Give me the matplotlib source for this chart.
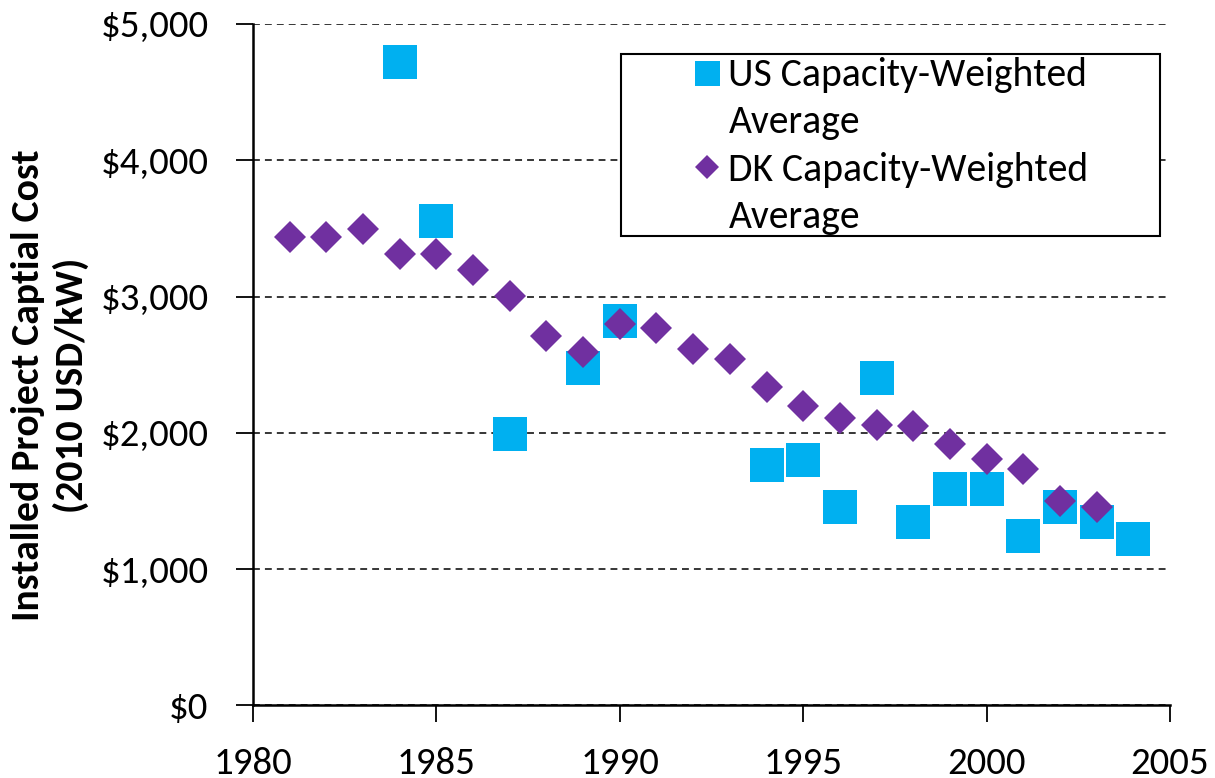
import matplotlib
matplotlib.use("Agg")
import matplotlib.pyplot as plt
from matplotlib.patches import Rectangle
from matplotlib.lines import Line2D

plt.rcParams['font.family'] = ['Carlito', 'DejaVu Sans']

us_years = [1984, 1985, 1987, 1989, 1990, 1994, 1995, 1996, 1997, 1998, 1999, 2000, 2001, 2002, 2003, 2004]
us_cost = [4720, 3555, 1992, 2476, 2821, 1765, 1802, 1457, 2403, 1346, 1589, 1589, 1244, 1457, 1346, 1222]

dk_years = list(range(1981, 2004))
dk_cost = [3439, 3439, 3494, 3311, 3311, 3194, 3004, 2712, 2595, 2800, 2770, 2617, 2544, 2339,
           2200, 2112, 2061, 2047, 1915, 1806, 1732, 1498, 1455]

x_ticks = [1980, 1985, 1990, 1995, 2000, 2005]
y_ticks = [0, 1000, 2000, 3000, 4000, 5000]
y_labels = ['$0', '$1,000', '$2,000', '$3,000', '$4,000', '$5,000']

US_COLOR = '#00B0F0'
DK_COLOR = '#7030A0'

fig = plt.figure(figsize=(12.15, 7.78), dpi=100)
ax = fig.add_axes([0.2082, 0.0932, 0.7548, 0.876])

ax.plot(us_years, us_cost, linestyle='none', marker='s', markersize=24,
        color=US_COLOR, markeredgewidth=0, zorder=3)
ax.plot(dk_years, dk_cost, linestyle='none', marker='D', markersize=16.8,
        color=DK_COLOR, markeredgewidth=0, zorder=4)

ax.set_xlim(1980, 2005)
ax.set_ylim(0, 5000)
ax.set_xticks(x_ticks)
ax.set_yticks(y_ticks)
ax.set_yticklabels(y_labels)
ax.tick_params(axis='both', labelsize=28, length=12, width=1.3, direction='out', color='black')
ax.tick_params(axis='x', pad=18)
ax.tick_params(axis='y', pad=20)

for s in ['top', 'right']:
    ax.spines[s].set_visible(False)
for s in ['left', 'bottom']:
    ax.spines[s].set_linewidth(1.8)

ax.yaxis.grid(True, linestyle=(0, (4.5, 3.3)), color='black', linewidth=1.1)
ax.set_axisbelow(True)

ax.set_ylabel('Installed Project Captial Cost\n(2010 USD/kW)', fontsize=28.5, fontweight='bold',
              linespacing=1.25)
ax.yaxis.set_label_coords(-0.179, 0.47)

# legend frame
rect = Rectangle((0.401, 0.689), 0.588, 0.267, transform=ax.transAxes, facecolor='white',
                 edgecolor='black', linewidth=1.5, zorder=5)
ax.add_patch(rect)
h_us = Line2D([], [], linestyle='none', marker='s', markersize=18, color=US_COLOR, markeredgewidth=0)
h_dk = Line2D([], [], linestyle='none', marker='D', markersize=12.4, color=DK_COLOR, markeredgewidth=0)
h_blank = Line2D([], [], linestyle='none', marker=None)
leg = ax.legend(handles=[h_us, h_blank, h_dk, h_blank],
                labels=['US Capacity-Weighted', 'Average', 'DK Capacity-Weighted', 'Average'],
                loc='upper left', bbox_to_anchor=(0.4766, 0.951), frameon=False,
                fontsize=28.5, handletextpad=0.12, handlelength=0.85, labelspacing=0.28,
                borderaxespad=0, borderpad=0)
leg.set_zorder(6)

fig.savefig('out.png', dpi=100)
